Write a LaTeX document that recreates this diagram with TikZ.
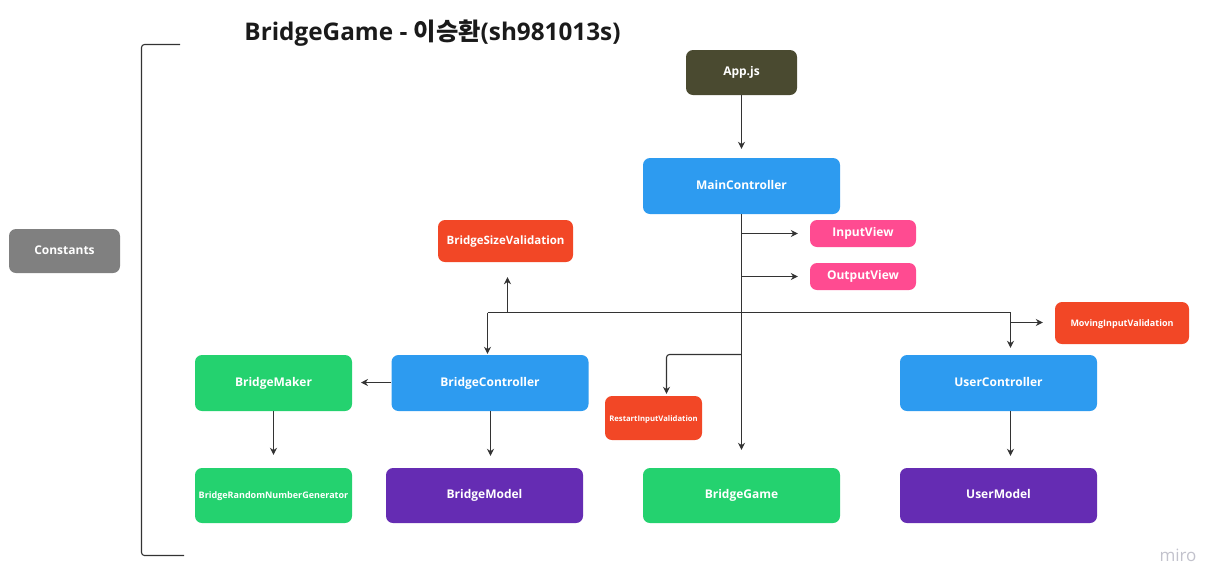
\documentclass[tikz,border=0pt]{standalone}
\usepackage{fontspec}
\setmainfont{Open Sans}
\newfontfamily\kr{Noto Sans CJK KR}
\usetikzlibrary{arrows.meta}
\definecolor{cblue}{HTML}{2D9BF0}
\definecolor{cgreen}{HTML}{24D26F}
\definecolor{cpurple}{HTML}{652CB3}
\definecolor{cred}{HTML}{F24726}
\definecolor{cpink}{HTML}{FF4B91}
\definecolor{cgray}{HTML}{808080}
\definecolor{colive}{HTML}{4A4A30}
\definecolor{cline}{HTML}{333333}
\definecolor{ctitle}{HTML}{1A1A1A}
\definecolor{cmiro}{HTML}{C2C2CC}
\tikzset{
  box/.style={rounded corners=7pt, inner sep=0pt, text=white, font=\bfseries\fontsize{12}{14}\selectfont, draw=none, text height=1.4ex, text depth=0.1ex},
  bigbox/.style={box, minimum width=197, minimum height=56},
  arr/.style={draw=cline, line width=1.1pt, -{Stealth[length=7pt,width=7pt]}},
  ln/.style={draw=cline, line width=1.1pt},
}
\begin{document}
\begin{tikzpicture}[x=1pt,y=-1pt]
\useasboundingbox (0,0) rectangle (1223,587);
% title
\node[text=ctitle, font=\bfseries\fontsize{24.3}{28}\selectfont, anchor=center] (title) at (432.5,33) {BridgeGame - {\kr\bfseries 이승환}(sh981013s)};
% bracket
\draw[ln, rounded corners=3pt] (180,44.5) -- (141.5,44.5) -- (141.5,555.5) -- (184,555.5);
% nodes
\node[box, fill=cgray, minimum width=111, minimum height=44] (const) at (64.5,251) {Constants};
\node[box, fill=colive, minimum width=111, minimum height=45] (app) at (741.5,72.5) {App.js};
\node[bigbox, fill=cblue] (main) at (741.5,186) {MainController};
\node[box, fill=cpink, minimum width=106, minimum height=27] (inview) at (863,233.5) {InputView};
\node[box, fill=cpink, minimum width=106, minimum height=27] (outview) at (863,276.5) {OutputView};
\node[box, fill=cred, minimum width=135, minimum height=42, font=\bfseries\fontsize{11.5}{13}\selectfont] (bsv) at (505.5,241) {BridgeSizeValidation};
\node[box, fill=cred, minimum width=134, minimum height=42, font=\bfseries\fontsize{9}{11}\selectfont] (miv) at (1122,323) {MovingInputValidation};
\node[bigbox, fill=cgreen, minimum width=157] (maker) at (273.5,383) {BridgeMaker};
\node[bigbox, fill=cblue] (bctrl) at (490,383) {BridgeController};
\node[bigbox, fill=cblue] (uctrl) at (998.5,383) {UserController};
\node[box, fill=cred, minimum width=97, minimum height=44, font=\bfseries\fontsize{7.7}{9}\selectfont] (riv) at (653.5,418) {RestartInputValidation};
\node[bigbox, fill=cgreen, minimum width=157, minimum height=55, font=\bfseries\fontsize{9}{11}\selectfont] (brng) at (273.5,495.5) {BridgeRandomNumberGenerator};
\node[bigbox, fill=cpurple, minimum height=55] (bmodel) at (484.5,495.5) {BridgeModel};
\node[bigbox, fill=cgreen, minimum height=55] (bgame) at (741.5,495.5) {BridgeGame};
\node[bigbox, fill=cpurple, minimum height=55] (umodel) at (998.5,495.5) {UserModel};
\node[text=cmiro, font=\fontsize{17}{20}\selectfont] (miro) at (1178,555) {miro};
% coordinates
\coordinate (cin) at (741.5,233.5);
\coordinate (cout) at (741.5,276.5);
\coordinate (busL) at (487.5,312.5);
\coordinate (busS) at (507.5,312.5);
\coordinate (busR) at (1010.5,312.5);
\coordinate (cmiv) at (1010.5,322.5);
\coordinate (cr) at (741.5,354.5);
\coordinate (crd) at (666.5,354.5);
\coordinate (cbm) at (361,382.5);
\coordinate (cbc) at (490.5,411);
\coordinate (cuc) at (1010.5,411);
% connectors
\draw[arr, shorten >=9pt] (app) -- (main);
\draw[arr, shorten >=18pt] (main) -- (main.south |- bgame.north);
\draw[arr, shorten >=12pt] (cin) -- (inview);
\draw[arr, shorten >=12pt] (cout) -- (outview);
\draw[ln] (busL) -- (busR);
\draw[arr, shorten >=15pt] (busS) -- (busS |- bsv.south);
\draw[arr, shorten >=1pt] (busL) -- (busL |- bctrl.north);
\draw[arr, shorten >=7pt] (busR) -- (busR |- uctrl.north);
\draw[arr, shorten >=12pt] (cmiv) -- (cmiv -| miv.west);
\draw[arr, rounded corners=3pt, shorten >=2pt] (cr) -- (crd) -- (crd |- riv.north);
\draw[arr] (cbm -| bctrl.west) -- (cbm);
\draw[arr, shorten >=13pt] (maker) -- (brng);
\draw[arr, shorten >=12pt] (cbc) -- (cbc |- bmodel.north);
\draw[arr, shorten >=12pt] (cuc) -- (cuc |- umodel.north);
\end{tikzpicture}
\end{document}
